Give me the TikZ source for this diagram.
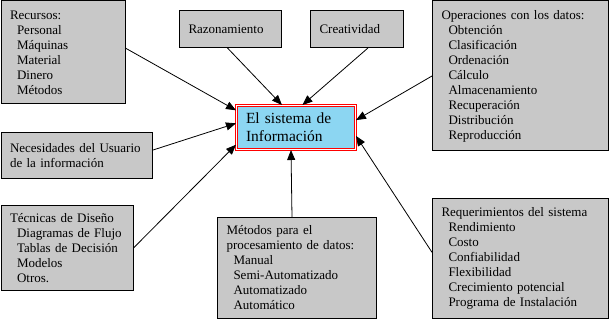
\documentclass[tikz,border=0pt]{standalone}
\usepackage{fontspec}
\setmainfont{Liberation Serif}
\usetikzlibrary{
  arrows.meta,
  positioning
}
\definecolor{sisGray}{HTML}{C8C8C8}
\definecolor{sisCyan}{HTML}{8CD6F2}
\definecolor{sisRed}{HTML}{FF0000}
\newcommand{\sangria}{\hspace*{7pt}}
\tikzset{
  sisBox/.style={
    draw=black,
    line width=1pt,
    fill=sisGray,
    anchor=north west,
    align=left,
    inner xsep=9pt,
    inner ysep=0pt,
    font=\fontsize{13}{15}\selectfont
  },
  sisCore/.style={
    draw=sisRed,
    double=white,
    double distance=1pt,
    line width=1pt,
    fill=sisCyan,
    align=left,
    inner xsep=9.5pt,
    minimum width=119pt,
    minimum height=44pt,
    text width=100pt,
    font=\fontsize{15.5}{18}\selectfont
  },
  sisArrow/.style={-{Triangle[length=10pt,width=8pt]}, line width=0.8pt, black}
}
\begin{document}
\begin{tikzpicture}[x=1pt,y=-1pt]
  \useasboundingbox (0,0) rectangle (611,320);

  \node[sisCore] (sistema) at (296,127.5) {El sistema de\\Información};

  \node[sisBox, minimum width=124pt, minimum height=103pt, text width=106pt]
    (recursos) at (0.5,0.5)
    {Recursos:\\\sangria Personal\\\sangria Máquinas\\\sangria Material\\\sangria Dinero\\\sangria Métodos};
  \node[sisBox, minimum width=102pt, minimum height=37pt, text width=84pt]
    (razon) at (179,10) {Razonamiento};
  \node[sisBox, minimum width=93pt, minimum height=37pt, text width=75pt]
    (creat) at (310,10) {Creatividad};
  \node[sisBox, minimum width=176pt, minimum height=150pt, text width=158pt]
    (operac) at (432,0.5)
    {Operaciones con los datos:\\\sangria Obtención\\\sangria Clasificación\\\sangria Ordenación\\\sangria Cálculo\\\sangria Almacenamiento\\\sangria Recuperación\\\sangria Distribución\\\sangria Reproducción};
  \node[sisBox, minimum width=151pt, minimum height=46pt, text width=133pt]
    (necesid) at (0.5,132)
    {Necesidades~del~Usuario\\de la información};
  \node[sisBox, minimum width=132pt, minimum height=85pt, text width=114pt]
    (tecnicas) at (0.5,205)
    {Técnicas~de~Diseño\\\sangria Diagramas~de~Flujo\\\sangria Tablas~de~Decisión\\\sangria Modelos\\\sangria Otros.};
  \node[sisBox, minimum width=159pt, minimum height=101pt, text width=141pt]
    (metodos) at (217,217)
    {Métodos para el\\procesamiento de datos:\\\sangria Manual\\\sangria Semi-Automatizado\\\sangria Automatizado\\\sangria Automático};
  \node[sisBox, minimum width=176pt, minimum height=120pt, text width=158pt]
    (requer) at (432,198)
    {Requerimientos del sistema\\\sangria Rendimiento\\\sangria Costo\\\sangria Confiabilidad\\\sangria Flexibilidad\\\sangria Crecimiento potencial\\\sangria Programa de Instalación};

  \draw[sisArrow] (recursos.4) -- (sistema.164);
  \draw[sisArrow] (razon.261) -- (sistema.122);
  \draw[sisArrow] (creat.300) -- (sistema.74);
  \draw[sisArrow] (operac.west) -- (sistema.7);
  \draw[sisArrow] (necesid.4) -- (sistema.176);
  \draw[sisArrow] (tecnicas.east) -- (sistema.196);
  \draw[sisArrow] ([xshift=-5pt]metodos.north) -- ([xshift=-5pt]sistema.south);
  \draw[sisArrow] (requer.176) -- (sistema.352);
\end{tikzpicture}
\end{document}
